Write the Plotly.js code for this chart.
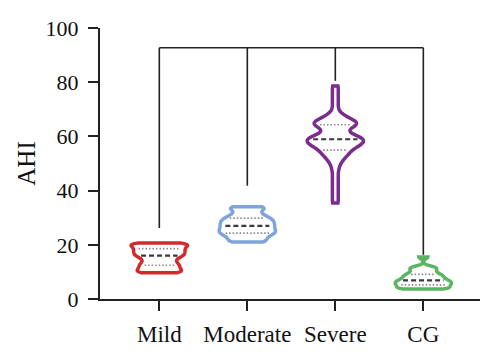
<!DOCTYPE html>
<html><head><meta charset="utf-8">
<script src="https://cdn.plot.ly/plotly-3.0.1.min.js"></script>
<style>html,body{margin:0;padding:0;background:#fff}#chart{width:500px;height:358px}</style>
</head><body><div id="chart"></div>
<script>
// ---- data (AHI per group) ----
const categories = ['Mild', 'Moderate', 'Severe', 'CG'];
const mildAHI = [9.7, 9.8, 10.2, 10.7, 11.2, 11.7, 12.2, 12.7, 13.2, 13.8, 14.45, 15.1, 15.6, 16.0, 16.4, 16.8, 17.2, 17.6, 18.0, 18.4, 18.8, 19.2, 19.6, 20.0, 20.3, 20.5, 20.7];
const moderateAHI = [21.0, 21.2, 21.75, 22.4, 23.0, 23.5, 23.9, 24.3, 24.7, 25.0, 25.4, 25.8, 26.2, 26.6, 27.0, 27.4, 27.8, 28.2, 28.6, 29.0, 29.4, 29.85, 30.35, 30.9, 31.6, 32.5, 33.4, 33.8, 34.0];
const severeAHI = [35.4, 37.4, 39.4, 41.4, 43.4, 45.4, 47.4,
  49.0, 50.2, 51.1, 51.8, 52.4,
  52.9, 53.4, 53.8, 54.2, 54.6, 54.95,
  55.3, 55.6, 55.9, 56.2, 56.45, 56.7, 56.95,
  57.15, 57.35, 57.55, 57.75, 57.95, 58.15, 58.35, 58.55, 58.75, 58.95, 59.15, 59.35, 59.55, 59.75, 59.95,
  60.2, 60.5, 60.85, 61.25,
  61.7, 62.2, 62.7, 63.15,
  63.5, 63.8, 64.05, 64.3, 64.55, 64.8, 65.05, 65.3, 65.55, 65.8, 66.1,
  66.45, 66.85, 67.35, 68.0, 68.8,
  70.6, 72.6, 74.6, 76.6, 78.6];
const cgAHI = [3.7, 3.75, 3.9, 4.2, 4.5, 4.8, 5.1, 5.35, 5.6, 5.85, 6.1, 6.35, 6.6, 6.85, 7.15, 7.5, 7.85, 8.2, 8.55, 8.9, 9.3, 9.8, 10.4, 11.0, 11.5, 11.9, 15.5];
const groups = [mildAHI, moderateAHI, severeAHI, cgAHI];
const bandwidths = [0.8, 0.9, 1.05, 0.65];
const bracketEnds = [26.2, 41.8, 80.5, 16.3];
const bracketTop = 92.7;
const yTicks = [0, 20, 40, 60, 80, 100];
const sigLabel = '#';

// ---- styles ----
const colors = ['#d4282d', '#7da5dc', '#7b2c8c', '#5cb564'];
const violinWidth = 0.64;
const serif = 'Liberation Serif, Times New Roman, serif';

function makeKde(vals, bw) {
  const c = 1 / (vals.length * bw * Math.sqrt(2 * Math.PI));
  return t => { let s = 0; for (const v of vals) { const z = (t - v) / bw; s += Math.exp(-0.5 * z * z); } return c * s; };
}
function maxKde(vals, bw) {
  const lo = Math.min(...vals), hi = Math.max(...vals);
  const dist = hi - lo, n = Math.ceil(dist / (bw / 3)), step = dist / n;
  const f = makeKde(vals, bw); let m = 0;
  for (let t = lo; t < hi + step / 2; t += step) m = Math.max(m, f(t));
  return m;
}
function quantile(vals, p) {
  const s = [...vals].sort((a, b) => a - b);
  const idx = (s.length - 1) * p, lo = Math.floor(idx), hi = Math.ceil(idx);
  return s[lo] + (s[hi] - s[lo]) * (idx - lo);
}

const traces = [];
groups.forEach((vals, i) => {
  traces.push({
    type: 'violin', x0: i, y: vals, name: categories[i], scalegroup: categories[i],
    width: violinWidth, scalemode: 'width', spanmode: 'hard', bandwidth: bandwidths[i],
    points: false, box: {visible: false}, meanline: {visible: false},
    line: {color: colors[i], width: 3.5}, fillcolor: 'rgba(255,255,255,1)',
    hoverinfo: 'skip', showlegend: false
  });
});
groups.forEach((vals, i) => {
  const f = makeKde(vals, bandwidths[i]), m = maxKde(vals, bandwidths[i]);
  [[0.25, 'dot'], [0.5, 'dash'], [0.75, 'dot']].forEach(([p, kind]) => {
    const q = quantile(vals, p);
    const hw = Math.max(0, f(q) / m * violinWidth / 2 - 0.06);
    traces.push({
      type: 'scatter', mode: 'lines', x: [i - hw, i + hw], y: [q, q],
      line: kind === 'dash' ? {color: '#3a3a3a', width: 2.2, dash: '5px,3px'} : {color: '#8a8a8a', width: 1.6, dash: '1.5px,2px'},
      hoverinfo: 'skip', showlegend: false
    });
  });
});
// significance bracket
const bx = [], by = [];
categories.forEach((c, i) => { bx.push(i, i, null); by.push(bracketEnds[i], bracketTop, null); });
bx.push(0, categories.length - 1); by.push(bracketTop, bracketTop);
traces.push({type: 'scatter', mode: 'lines', x: bx, y: by, line: {color: '#222', width: 1.6}, hoverinfo: 'skip', showlegend: false, cliponaxis: false});

const axisCommon = {
  showline: true, linecolor: '#222', linewidth: 2, ticks: 'outside', ticklen: 10, tickwidth: 2, tickcolor: '#222',
  showgrid: false, zeroline: false
};
const layout = {
  width: 500, height: 358, paper_bgcolor: '#fff', plot_bgcolor: '#fff',
  margin: {l: 100, r: 20, t: 28, b: 59}, violinmode: 'overlay', showlegend: false,
  xaxis: Object.assign({}, axisCommon, {type: 'linear', range: [-0.674, 3.644], tickvals: [0, 1, 2, 3], ticktext: categories,
    ticklabelstandoff: 3, tickfont: {family: serif, size: 23, color: '#111'}}),
  yaxis: Object.assign({}, axisCommon, {range: [0, 100], tickvals: yTicks, ticklabelstandoff: 5,
    tickfont: {family: serif, size: 22, color: '#111'},
    title: {text: 'AHI', font: {family: serif, size: 25, color: '#111'}, standoff: 3}}),
  annotations: [{x: 1.52, y: 100.5, xref: 'x', yref: 'y', text: sigLabel, showarrow: false, font: {family: serif, size: 20, color: '#111'}}]
};
Plotly.newPlot('chart', traces, layout, {staticPlot: true});
</script></body></html>
